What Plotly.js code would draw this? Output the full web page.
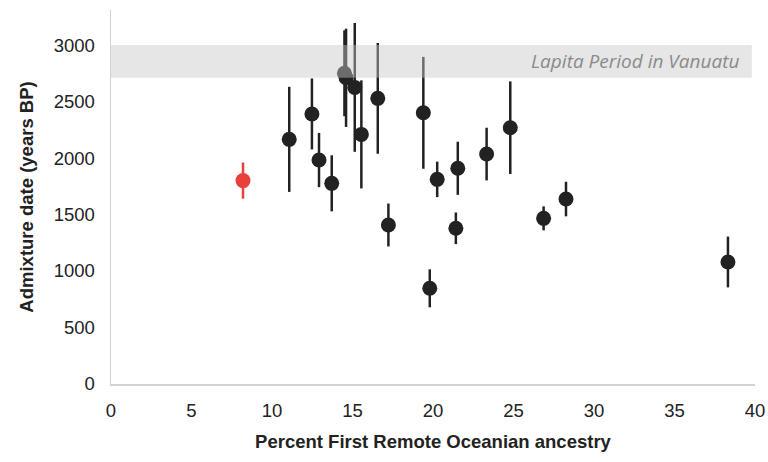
<!DOCTYPE html>
<html>
<head>
<meta charset="utf-8">
<script src="https://cdn.plot.ly/plotly-3.0.1.min.js"></script>
<style>html,body{margin:0;padding:0;background:#fff;}#chart{width:768px;height:462px;}</style>
</head>
<body>
<div id="chart"></div>
<script>
// Black series: percent First Remote Oceanian ancestry, admixture date, error (years)
const pctAncestry = [11.07, 12.48, 12.92, 13.71, 14.5, 14.6, 15.14, 15.55, 16.57, 17.23, 19.4, 19.8, 20.26, 21.42, 21.54, 23.33, 24.8, 26.87, 28.26, 38.32];
const admixDate   = [2165, 2390, 1982, 1776, 2750, 2710, 2625, 2209, 2528, 1407, 2400, 847, 1811, 1378, 1909, 2035, 2268, 1466, 1637, 1080];
const errDate     = [465, 314, 240, 248, 380, 435, 570, 478, 490, 190, 495, 168, 157, 140, 235, 233, 410, 106, 153, 225];
// Red series
const redPct = [8.2];
const redDate = [1800];
const redErr = [160];
// Lapita band
const bandLow = 2710, bandHigh = 3000;
const bandLabel = 'Lapita Period in Vanuatu';

const dark = '#222222';
const traces = [
  {
    x: pctAncestry, y: admixDate, type: 'scatter', mode: 'markers',
    marker: {color: dark, size: 15},
    error_y: {type: 'data', array: errDate, visible: true, color: dark, thickness: 2.5, width: 0},
    hoverinfo: 'x+y', showlegend: false
  },
  {
    x: redPct, y: redDate, type: 'scatter', mode: 'markers',
    marker: {color: '#e8403a', size: 15},
    error_y: {type: 'data', array: redErr, visible: true, color: '#e8403a', thickness: 2.5, width: 0},
    showlegend: false
  }
];

const layout = {
  width: 768, height: 462,
  margin: {l: 111, r: 13, t: 10, b: 78},
  paper_bgcolor: '#fff', plot_bgcolor: '#fff',
  font: {family: 'Liberation Sans, Arial, sans-serif', color: '#222', size: 18},
  xaxis: {
    range: [0, 40], tickvals: [0,5,10,15,20,25,30,35,40],
    showgrid: false, zeroline: false, showline: true, linecolor: '#d2d2d2', linewidth: 1.5,
    ticks: '', ticklabelstandoff: 9,
    tickfont: {size: 18.5, color: '#222'},
    title: {text: '<b>Percent First Remote Oceanian ancestry</b>', font: {size: 18.5, color: '#222'}, standoff: 15}
  },
  yaxis: {
    range: [0, 3310], tickvals: [0,500,1000,1500,2000,2500,3000],
    showgrid: false, zeroline: false, showline: true, linecolor: '#d2d2d2', linewidth: 1.5,
    ticks: '', ticklabelstandoff: 11,
    tickfont: {size: 18.5, color: '#222'},
    title: {text: '<b>Admixture date (years BP)</b>', font: {size: 18.5, color: '#222'}, standoff: 15}
  },
  shapes: [{
    type: 'rect', xref: 'x', yref: 'y', x0: 0, x1: 39.8, y0: bandLow, y1: bandHigh,
    fillcolor: 'rgb(200,200,200)', opacity: 0.45, line: {width: 0}, layer: 'above'
  }],
  annotations: [{
    xref: 'x', yref: 'y', x: 39.1, y: (bandLow + bandHigh) / 2, xanchor: 'right', yanchor: 'middle',
    text: '<i>' + bandLabel + '</i>', showarrow: false,
    font: {family: 'Open Sans, sans-serif', size: 19, color: '#8a8a8a'}
  }]
};

Plotly.newPlot('chart', traces, layout, {displayModeBar: false, staticPlot: true});
</script>
</body>
</html>
